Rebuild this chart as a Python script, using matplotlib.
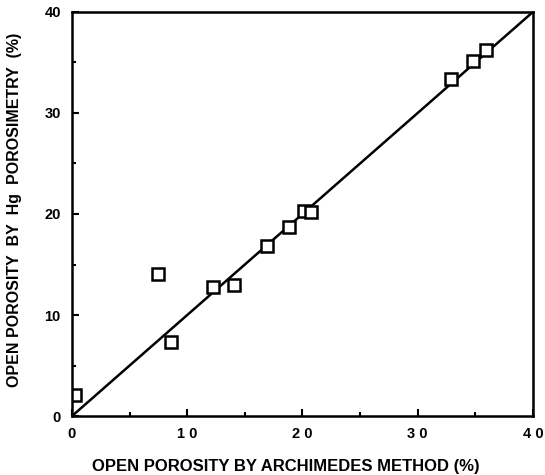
import numpy as np
import matplotlib.pyplot as plt
from matplotlib.ticker import MultipleLocator

plt.rcParams['font.family'] = ['Liberation Sans', 'DejaVu Sans']
plt.rcParams['font.weight'] = 'bold'

# open porosity (%) : Archimedes method vs Hg porosimetry
archimedes = [0.3, 7.5, 8.6, 12.2, 14.1, 16.9, 18.8, 20.1, 20.7, 32.9, 34.8, 35.9]
porosimetry = [2.1, 14.1, 7.3, 12.8, 13.0, 16.8, 18.7, 20.3, 20.2, 33.4, 35.1, 36.2]

x_ticks = [0, 10, 20, 30, 40]
x_tick_labels = ['0', '1 0', '2 0', '3 0', '4 0']
y_ticks = [0, 10, 20, 30, 40]
y_tick_labels = ['0', '10', '20', '30', '40']
diagonal = [0, 40]

fig = plt.figure(figsize=(5.45, 4.75), dpi=100)
ax = fig.add_axes([0.132, 0.124, 0.846, 0.851])

ax.plot(diagonal, diagonal, color='black', linewidth=1.8)
ax.plot(archimedes, porosimetry, linestyle='none', marker='s', markersize=8.5,
        markerfacecolor='white', markeredgecolor='black', markeredgewidth=1.8)

ax.set_xlim(0, 40)
ax.set_ylim(0, 40)
ax.set_xticks(x_ticks)
ax.set_xticklabels(x_tick_labels)
ax.set_yticks(y_ticks)
ax.set_yticklabels(y_tick_labels)
ax.xaxis.set_minor_locator(MultipleLocator(5))
ax.yaxis.set_minor_locator(MultipleLocator(5))
ax.tick_params(which='major', direction='in', length=5, width=1.5, labelsize=10.5, pad=8)
ax.tick_params(which='minor', direction='in', length=3, width=1.5)
for spine in ax.spines.values():
    spine.set_linewidth(1.8)

ax.set_xlabel('OPEN POROSITY BY ARCHIMEDES METHOD (%)', fontsize=12, fontweight='bold')
ax.set_ylabel('OPEN POROSITY  BY  Hg  POROSIMETRY  (%)', fontsize=11.5, fontweight='bold')
ax.xaxis.set_label_coords(0.464, -0.105)
ax.yaxis.set_label_coords(-0.108, 0.51)

fig.savefig('out.png', dpi=100)
